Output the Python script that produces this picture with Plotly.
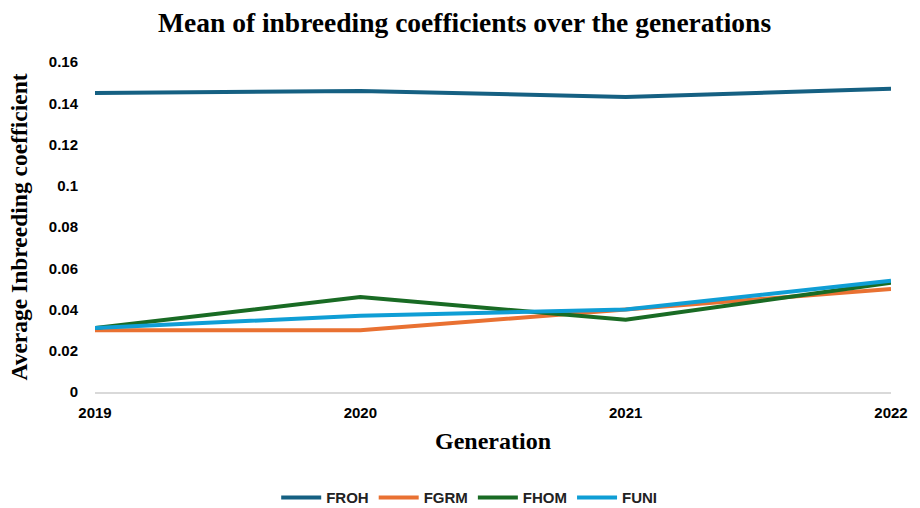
import plotly.graph_objects as go

# Generations and mean inbreeding coefficients per estimator
generations = [2019, 2020, 2021, 2022]
froh = [0.145, 0.146, 0.143, 0.147]
fgrm = [0.030, 0.030, 0.040, 0.050]
fhom = [0.031, 0.046, 0.035, 0.053]
funi = [0.031, 0.037, 0.040, 0.054]

y_ticks = [0, 0.02, 0.04, 0.06, 0.08, 0.1, 0.12, 0.14, 0.16]
y_tick_text = ["0", "0.02", "0.04", "0.06", "0.08", "0.1", "0.12", "0.14", "0.16"]

series = [
    ("FROH", froh, "#156082"),
    ("FGRM", fgrm, "#E97132"),
    ("FHOM", fhom, "#196B24"),
    ("FUNI", funi, "#0F9ED5"),
]

fig = go.Figure()
for name, vals, color in series:
    fig.add_trace(go.Scatter(
        x=generations, y=vals, name=name, mode="lines",
        line=dict(color=color, width=4),
    ))

serif = "Liberation Serif, Times New Roman, serif"
sans = "Liberation Sans, Arial, sans-serif"

fig.update_layout(
    width=920, height=508,
    paper_bgcolor="white", plot_bgcolor="white",
    margin=dict(l=95, r=18, t=62, b=116),
    title=dict(
        text="<b>Mean of inbreeding coefficients over the generations</b>",
        font=dict(family=serif, size=27.5, color="black"),
        x=0.505, xanchor="center", xref="container",
        y=0.955, yanchor="middle", yref="container",
    ),
    xaxis=dict(
        range=[2019, 2022],
        tickvals=generations,
        ticktext=[str(g) for g in generations],
        tickfont=dict(family=sans, size=15, color="black", weight="bold"),
        showgrid=False, zeroline=False,
        showline=True, linecolor="#D9D9D9", linewidth=1.5,
        ticks="", ticklabelstandoff=6,
        title=dict(text="<b>Generation</b>",
                   font=dict(family=serif, size=24, color="black"),
                   standoff=12),
    ),
    yaxis=dict(
        range=[0, 0.16],
        tickvals=y_ticks, ticktext=y_tick_text,
        tickfont=dict(family=sans, size=15, color="black", weight="bold"),
        showgrid=False, zeroline=False, showline=False,
        ticks="", ticklabelstandoff=16,
        title=dict(text="<b>Average Inbreeding coefficient</b>",
                   font=dict(family=serif, size=23.5, color="black"),
                   standoff=14),
    ),
    legend=dict(
        orientation="h",
        xref="container", x=0.51, xanchor="center",
        yref="container", y=0.02, yanchor="middle",
        font=dict(family=sans, size=15, color="#222222", weight="bold"),
        itemwidth=40,
    ),
)

fig.write_html("out.html")
